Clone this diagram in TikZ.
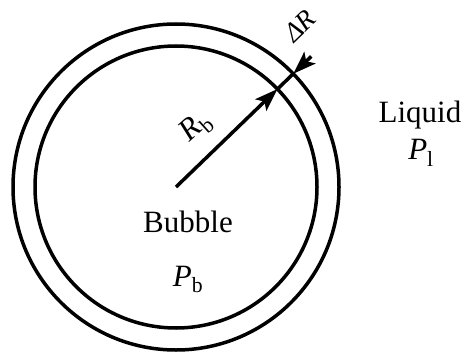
\documentclass[tikz,border=0pt]{standalone}
\usepackage{amsmath}
\usepackage{fontspec}
\setmainfont{Liberation Serif}
\usepackage{tikz}
\usetikzlibrary{arrows.meta, calc}
\tikzset{
  wall/.style={line width=3.5pt},
  radline/.style={line width=3.5pt},
  radarrow/.style={line width=3.5pt, -{Stealth[length=23pt, width=16pt, inset=5pt]}},
  label/.style={font=\fontsize{31}{34}\selectfont, inner sep=0pt},
  smalllabel/.style={font=\fontsize{27}{30}\selectfont, inner sep=0pt},
}

\begin{document}
\begin{tikzpicture}[x=1pt, y=1pt]
    \useasboundingbox (0,0) rectangle (465,351);
    \coordinate (c) at (176,164);
    \coordinate (a) at ($(c)+(44:141)$);
    \coordinate (b) at ($(c)+(44:163)$);
    \coordinate (d) at ($(c)+(44:188)$);
    % Walls
    \draw[wall] (c) circle (141);
    \draw[wall] (c) circle (163);
    % Radii
    \draw[radarrow] (c) -- (a);
    \draw[radline] (a) -- (b);
    \draw[radarrow] (d) -- (b);
    % Labels
    \node[label, rotate=42] (rb) at (196,224) {\textit{R}$_{\text{b}}$};
    \node[smalllabel, rotate=44] (dr) at (300,325) {\textit{ΔR}};
    \node[label, anchor=base] (liq) at (420,228) {Liquid};
    \node[label, anchor=base] (pl) at (421,191) {\textit{P}$_{\text{l}}$};
    \node[label, anchor=base] (bub) at (188,119) {Bubble};
    \node[label, anchor=base] (pb) at (188,65) {\textit{P}$_{\text{b}}$};
  \end{tikzpicture}
\end{document}
